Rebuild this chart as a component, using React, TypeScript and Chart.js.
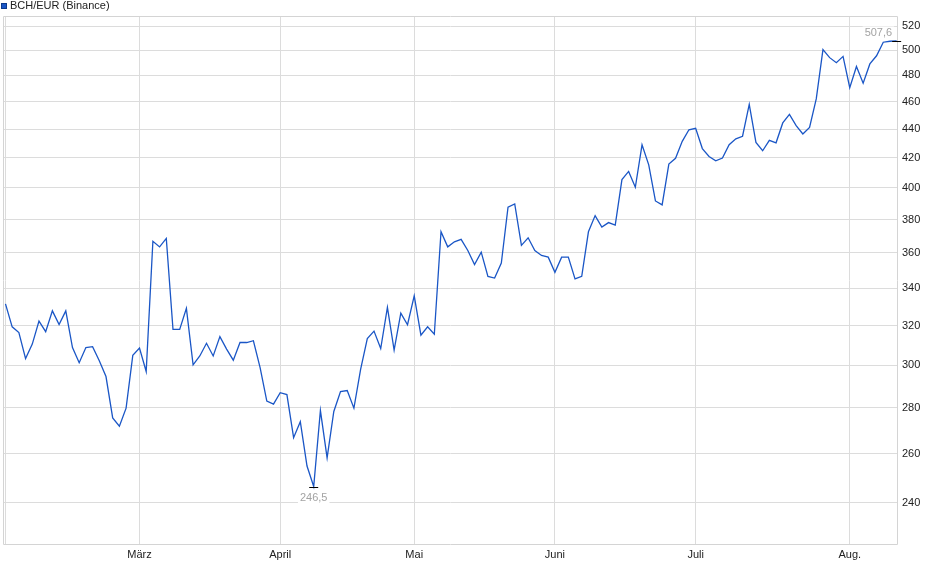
import React, { useEffect, useRef } from 'react';
import { Chart, registerables } from 'chart.js';

Chart.register(...registerables);

const seriesLabel = 'BCH/EUR (Binance)';

const prices = [
  331.4, 319.3, 316.4, 303.3, 310.5, 322.3, 316.8, 327.7, 320.5, 327.7,
  308.8, 301.3, 308.8, 309.2, 302.2, 294.6, 275.5, 271.8, 279.9, 304.9,
  308.5, 297.0, 366.8, 363.5, 368.5, 318.0, 318.0, 329.0, 300.2, 304.6,
  310.9, 304.6, 314.3, 308.0, 302.5, 311.3, 311.3, 312.2, 298.9, 283.1,
  281.7, 287.0, 286.1, 266.8, 273.8, 254.8, 246.5, 278.8, 258.2, 278.4,
  287.5, 288.0, 279.9, 298.0, 313.3, 317.1, 308.3, 329.5, 307.5, 326.5,
  320.4, 335.8, 315.0, 319.3, 315.5, 372.5, 363.5, 366.5, 368.0, 361.4,
  353.2, 360.4, 346.5, 345.6, 354.1, 387.7, 389.7, 364.4, 368.9, 361.4,
  358.5, 357.5, 348.8, 357.5, 357.5, 345.1, 346.6, 372.5, 382.4, 375.4,
  378.1, 376.5, 405.4, 410.8, 400.4, 428.9, 415.2, 391.6, 389.1, 415.7,
  419.6, 431.3, 439.5, 440.5, 426.3, 420.9, 417.9, 419.8, 429.0, 433.1,
  434.9, 458.0, 430.6, 424.8, 432.0, 430.3, 444.4, 450.6, 442.4, 436.5,
  441.2, 462.0, 500.5, 494.0, 490.0, 495.0, 470.5, 487.0, 474.0, 489.0,
  495.5, 506.5, 507.3, 507.6,
];

const monthTickIdx = [0, 20, 41, 61, 82, 103, 126];
const monthTickLabels = ['', 'März', 'April', 'Mai', 'Juni', 'Juli', 'Aug.'];
const yTickValues = [240, 260, 280, 300, 320, 340, 360, 380, 400, 420, 440, 460, 480, 500, 520];

const annotIdx = [46, 133];
const annotText = ['246,5', '507,6'];

const FONT = "'Liberation Sans', Arial, Helvetica, sans-serif";
const LINE_COLOR = '#1a56c6';
const GRID = '#dcdcdc';

export default function App() {
  const ref = useRef<HTMLCanvasElement>(null);

  useEffect(() => {
    document.body.style.margin = '0';
    const canvas = ref.current!;

    const framePlugin = {
      id: 'frame',
      beforeDatasetsDraw(chart: any) {
        const { ctx, chartArea: a } = chart;
        ctx.save();
        ctx.strokeStyle = '#d4d4d4';
        ctx.lineWidth = 1;
        ctx.beginPath();
        const l = Math.round(a.left) + 0.5;
        const t = Math.round(a.top) + 0.5;
        const r = Math.round(a.right) - 0.5;
        const b = Math.round(a.bottom) - 0.5;
        ctx.moveTo(l, b);
        ctx.lineTo(l, t);
        ctx.lineTo(r, t);
        ctx.lineTo(r, b);
        ctx.lineTo(l, b);
        ctx.stroke();
        ctx.restore();
      },
    };

    const legendPlugin = {
      id: 'topLegend',
      afterDraw(chart: any) {
        const { ctx } = chart;
        ctx.save();
        ctx.fillStyle = LINE_COLOR;
        ctx.fillRect(1, 3, 6, 6);
        ctx.strokeStyle = '#0d3a8c';
        ctx.lineWidth = 1;
        ctx.strokeRect(1.5, 3.5, 5, 5);
        ctx.fillStyle = '#222';
        ctx.font = `11px ${FONT}`;
        ctx.textBaseline = 'middle';
        ctx.textAlign = 'left';
        ctx.fillText(seriesLabel, 10, 6);
        ctx.restore();
      },
    };

    const annotPlugin = {
      id: 'extremes',
      afterDatasetsDraw(chart: any) {
        const { ctx } = chart;
        const xs = chart.scales.x;
        const ys = chart.scales.y;
        const minVal = Math.min(...prices);
        ctx.save();
        ctx.font = `11px ${FONT}`;
        annotIdx.forEach((i, k) => {
          const v = prices[i];
          const px = xs.getPixelForValue(i);
          const py = Math.round(ys.getPixelForValue(v)) + 0.5;
          ctx.strokeStyle = '#000';
          ctx.lineWidth = 1;
          ctx.beginPath();
          ctx.moveTo(px - 4.5, py);
          ctx.lineTo(px + 4.5, py);
          ctx.stroke();
          const txt = annotText[k];
          const w = ctx.measureText(txt).width;
          let tx: number;
          let ty: number;
          if (v === minVal) {
            ctx.textAlign = 'center';
            tx = px;
            ty = py + 10;
            ctx.fillStyle = '#fff';
            ctx.fillRect(tx - w / 2 - 2, ty - 6, w + 4, 12);
          } else {
            ctx.textAlign = 'right';
            tx = px - 4.5;
            ty = py - 9;
            ctx.fillStyle = '#fff';
            ctx.fillRect(tx - w - 2, ty - 6, w + 4, 12);
          }
          ctx.textBaseline = 'middle';
          ctx.fillStyle = '#a3a3a3';
          ctx.fillText(txt, tx, ty);
        });
        ctx.restore();
      },
    };

    const chart = new Chart(canvas, {
      type: 'line',
      data: {
        datasets: [
          {
            label: seriesLabel,
            data: prices.map((v, i) => ({ x: i, y: v })),
            borderColor: LINE_COLOR,
            borderWidth: 1.3,
            pointRadius: 0,
            tension: 0,
            fill: false,
          },
        ],
      },
      options: {
        responsive: false,
        animation: false,
        devicePixelRatio: 1,
        layout: { padding: { left: 3, top: 16, right: 0, bottom: 0 } },
        plugins: {
          legend: { display: false },
          tooltip: { enabled: false },
        },
        scales: {
          x: {
            type: 'linear',
            position: 'bottom',
            min: -0.37,
            max: 133.2,
            grid: { color: GRID, drawTicks: false, lineWidth: 1 },
            border: { display: false },
            afterBuildTicks: (scale: any) => {
              scale.ticks = monthTickIdx.map((v) => ({ value: v }));
            },
            afterFit: (scale: any) => {
              scale.height = 34;
            },
            ticks: {
              autoSkip: false,
              maxRotation: 0,
              padding: 3,
              color: '#222',
              font: { family: FONT, size: 11 },
              callback: (value: any) => {
                const k = monthTickIdx.indexOf(Number(value));
                return k >= 0 ? monthTickLabels[k] : '';
              },
            },
          },
          y: {
            type: 'logarithmic',
            position: 'right',
            min: 224.2,
            max: 528.5,
            grid: { color: GRID, drawTicks: false, lineWidth: 1 },
            border: { display: false },
            afterBuildTicks: (scale: any) => {
              scale.ticks = yTickValues.map((v) => ({ value: v }));
            },
            afterFit: (scale: any) => {
              scale.width = 42;
            },
            ticks: {
              padding: 4,
              color: '#222',
              font: { family: FONT, size: 11 },
              callback: (value: any) => String(value),
            },
          },
        },
      },
      plugins: [framePlugin, legendPlugin, annotPlugin],
    } as any);

    return () => {
      chart.destroy();
    };
  }, []);

  return (
    <div style={{ width: 940, height: 579, background: '#fff' }}>
      <canvas ref={ref} width={940} height={579} style={{ display: 'block' }} />
    </div>
  );
}
